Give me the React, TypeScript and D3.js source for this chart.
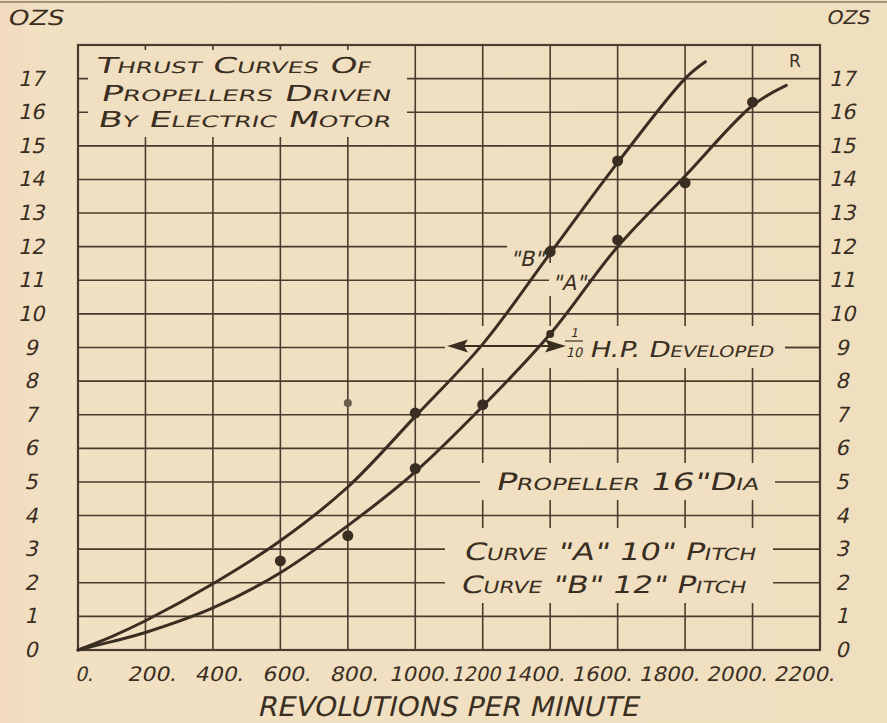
import React from "react";
import * as d3 from "d3";

// ---- data ----
const rpmTicks = [0, 200, 400, 600, 800, 1000, 1200, 1400, 1600, 1800, 2000, 2200];
const rpmTickLabels = ["0.", "200.", "400.", "600.", "800.", "1000.", "1200", "1400.", "1600.", "1800.", "2000.", "2200."];
const ozTicks = [0, 1, 2, 3, 4, 5, 6, 7, 8, 9, 10, 11, 12, 13, 14, 15, 16, 17];
const ozTickLabels = ["0", "1", "2", "3", "4", "5", "6", "7", "8", "9", "10", "11", "12", "13", "14", "15", "16", "17"];

// Curve "A" (10" pitch) — lower curve
const curveARpm = [0, 100, 200, 400, 600, 800, 1000, 1200, 1400, 1600, 1800, 2000, 2100];
const curveAOz = [0, 0.25, 0.52, 1.25, 2.3, 3.7, 5.3, 7.25, 9.4, 12.0, 14.1, 16.2, 16.8];
// Curve "B" (12" pitch) — upper curve
const curveBRpm = [0, 100, 200, 400, 600, 800, 1000, 1200, 1400, 1600, 1800, 1860];
const curveBOz = [0, 0.4, 0.87, 1.97, 3.25, 4.85, 6.95, 9.1, 11.8, 14.5, 17.0, 17.5];

// measured points
const pointsARpm = [600, 800, 1000, 1200, 1400, 1600, 1800, 2000];
const pointsAOz = [2.65, 3.4, 5.4, 7.3, 9.4, 12.2, 13.9, 16.3];
const pointsBRpm = [800, 1000, 1400, 1600];
const pointsBOz = [7.35, 7.05, 11.85, 14.55];

const titleLines = ["Thrust Curves Of", "Propellers Driven", "By Electric Motor"];

const INK = "#3a2e22";
const GRID = "#4a3c2e";
const PAPER = "#f0e0c1";
const FONT = "'DejaVu Sans', 'Liberation Sans', sans-serif";

// hand-lettered slanted text
function IText(props: any) {
  const { x, y, children, skew = -13, ...rest } = props;
  return (
    <g transform={`translate(${x},${y}) skewX(${skew})`}>
      <text x={0} y={0} fontFamily={FONT} fill={INK} {...rest}>
        {children}
      </text>
    </g>
  );
}

export default function App() {
  const W = 887, H = 723;
  const x = d3.scaleLinear().domain([0, 2200]).range([78, 820]);
  const y = d3.scaleLinear().domain([0, 18]).range([650, 45]);

  const line = d3
    .line<[number, number]>()
    .x((d) => x(d[0]))
    .y((d) => y(d[1]))
    .curve(d3.curveCatmullRom.alpha(0.5));

  const dataA: [number, number][] = curveARpm.map((r, i) => [r, curveAOz[i]]);
  const dataB: [number, number][] = curveBRpm.map((r, i) => [r, curveBOz[i]]);

  const gridY = d3.range(0, 19);

  // paper-coloured boxes behind lettering (break the grid like the original)
  const covers = [
    { x0: 88, x1: 407, y0: 50, y1: 137 },
    { x0: 507, x1: 548, y0: 238, y1: 272 },
    { x0: 549, x1: 588, y0: 263, y1: 296 },
    { x0: 445, x1: 785, y0: 326, y1: 368 },
    { x0: 480, x1: 775, y0: 463, y1: 500 },
    { x0: 445, x1: 773, y0: 528, y1: 603 },
  ];

  const labelShift = (v: number) => (v < 1000 ? 6 : v === 1000 ? 4 : v === 1200 ? -7 : -16);
  const sc = { fontVariant: "small-caps" };

  return (
    <svg
      width={W}
      height={H}
      viewBox={`0 0 ${W} ${H}`}
      style={{ position: "absolute", left: 0, top: 0, display: "block" }}
    >
      <defs>
        <linearGradient id="paper" x1="0" x2="1" y1="0" y2="0">
          <stop offset="0" stopColor="#f2dabf" />
          <stop offset="0.05" stopColor="#f1e0c2" />
          <stop offset="1" stopColor="#efdfbf" />
        </linearGradient>
      </defs>
      <rect x={0} y={0} width={W} height={H} fill="url(#paper)" />
      <line x1={0} x2={W} y1={2} y2={2} stroke="#8a7a64" strokeWidth={1.5} />

      {/* grid */}
      <g stroke={GRID} strokeWidth={1.6}>
        {rpmTicks.map((t) => (
          <line key={"v" + t} x1={x(t)} x2={x(t)} y1={y(18)} y2={y(0)} />
        ))}
        {gridY.map((t) => (
          <line key={"h" + t} x1={x(0)} x2={x(2200)} y1={y(t)} y2={y(t)} />
        ))}
      </g>
      {covers.map((c, i) => (
        <rect key={"c" + i} x={c.x0} y={c.y0} width={c.x1 - c.x0} height={c.y1 - c.y0} fill={PAPER} />
      ))}
      {/* frame */}
      <rect x={x(0)} y={y(18)} width={x(2200) - x(0)} height={y(0) - y(18)} fill="none" stroke={GRID} strokeWidth={2.2} />

      {/* curves */}
      <path d={line(dataA) || ""} fill="none" stroke={INK} strokeWidth={3} strokeLinecap="round" />
      <path d={line(dataB) || ""} fill="none" stroke={INK} strokeWidth={3} strokeLinecap="round" />

      {/* points */}
      {pointsARpm.map((r, i) => (
        <circle key={"pa" + i} cx={x(r)} cy={y(pointsAOz[i])} r={r === 1400 ? 4 : 5.5} fill={INK} />
      ))}
      {pointsBRpm.map((r, i) => (
        <circle key={"pb" + i} cx={x(r)} cy={y(pointsBOz[i])} r={r === 800 ? 4 : 5.5} fill={r === 800 ? "#6b5d4c" : INK} />
      ))}

      {/* left & right axis labels */}
      {ozTicks.map((t, i) => (
        <IText key={"l" + t} x={31} y={y(t) + 7} fontSize={21} textAnchor="middle">
          {ozTickLabels[i]}
        </IText>
      ))}
      {ozTicks.map((t, i) => (
        <IText key={"r" + t} x={842} y={y(t) + 7} fontSize={21} textAnchor="middle">
          {ozTickLabels[i]}
        </IText>
      ))}
      <IText x={7} y={25} fontSize={21} textLength={56} lengthAdjust="spacingAndGlyphs">OZS</IText>
      <IText x={826} y={24} fontSize={19} textLength={43} lengthAdjust="spacingAndGlyphs">OZS</IText>

      {/* bottom tick labels */}
      {rpmTicks.map((t, i) => {
        const lab = rpmTickLabels[i];
        const len = lab.length > 2 ? lab.length * 12.2 : 18;
        return (
          <IText
            key={"b" + t}
            x={x(t) + labelShift(t)}
            y={681}
            fontSize={20}
            textAnchor="middle"
            textLength={len}
            lengthAdjust="spacingAndGlyphs"
          >
            {lab}
          </IText>
        );
      })}
      <IText x={257} y={716} fontSize={27} textLength={381} lengthAdjust="spacingAndGlyphs">
        REVOLUTIONS PER MINUTE
      </IText>

      {/* title */}
      <IText x={95} y={73} fontSize={22} style={sc} textLength={275} lengthAdjust="spacingAndGlyphs">{titleLines[0]}</IText>
      <IText x={100} y={101} fontSize={22} style={sc} textLength={290} lengthAdjust="spacingAndGlyphs">{titleLines[1]}</IText>
      <IText x={97} y={127} fontSize={22} style={sc} textLength={293} lengthAdjust="spacingAndGlyphs">{titleLines[2]}</IText>

      {/* annotations */}
      <text x={795} y={67} fontSize={17} textAnchor="middle" fontFamily={FONT} fill={INK}>R</text>
      <IText x={527} y={266} fontSize={21} textAnchor="middle">"B"</IText>
      <IText x={569} y={290} fontSize={21} textAnchor="middle">"A"</IText>
      <IText x={495} y={490} fontSize={24} style={sc} textLength={263} lengthAdjust="spacingAndGlyphs">Propeller  16"Dia</IText>
      <IText x={463} y={560} fontSize={24} style={sc} textLength={292} lengthAdjust="spacingAndGlyphs">Curve "A"  10" Pitch</IText>
      <IText x={460} y={593} fontSize={24} style={sc} textLength={285} lengthAdjust="spacingAndGlyphs">Curve "B"  12" Pitch</IText>
      <IText x={574} y={337} fontSize={12} textAnchor="middle">1</IText>
      <IText x={574} y={357} fontSize={13} textAnchor="middle">10</IText>
      <IText x={589} y={357} fontSize={22} style={sc} textLength={184} lengthAdjust="spacingAndGlyphs">H.P. Developed</IText>
      <line x1={565} x2={583} y1={341} y2={341} stroke={INK} strokeWidth={1.2} />

      {/* arrow */}
      <g stroke={INK} strokeWidth={1.8} fill={INK}>
        <line x1={452} x2={560} y1={346} y2={346} />
        <path d="M450,346 L466,341 L463,346 L466,351 Z" />
        <path d="M563,346 L547,341 L550,346 L547,351 Z" />
      </g>
      {/* right stub of broken line 9 */}
      <line x1={785} x2={820} y1={y(9)} y2={y(9)} stroke={GRID} strokeWidth={1.6} />
    </svg>
  );
}
